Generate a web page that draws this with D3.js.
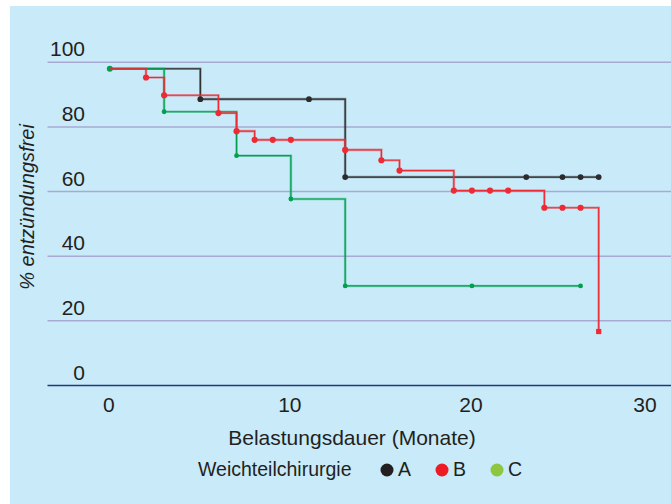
<!DOCTYPE html>
<html>
<head>
<meta charset="utf-8">
<script src="https://cdn.jsdelivr.net/npm/d3@7"></script>
<style>
  html, body { margin: 0; padding: 0; background: #fff; }
  svg { display: block; font-family: "Liberation Sans", Arial, sans-serif; }
</style>
</head>
<body>
<svg id="chart" width="671" height="504"></svg>
<script>
// x axis ticks and y gridlines
const xTicks = [0, 10, 20, 30];
const yTicks = [0, 20, 40, 60, 80, 100];

// Kaplan-Meier steps: time (months) and % free of inflammation at each marker
const timesA = [0, 5, 11, 13, 23, 25, 26, 27];
const valuesA = [98, 88.6, 88.6, 64.5, 64.5, 64.5, 64.5, 64.5];
const timesB = [0, 2, 3, 6, 7, 8, 9, 10, 13, 15, 16, 19, 20, 21, 22, 24, 25, 26, 27];
const valuesB = [98, 95.3, 89.8, 84.3, 78.7, 76, 76, 76, 72.9, 69.7, 66.5, 60.3, 60.3, 60.3, 60.3, 55, 55, 55, 16.7];
const timesC = [0, 3, 7, 10, 13, 20, 26];
const valuesC = [98, 84.7, 71.1, 57.7, 30.8, 30.8, 30.8];

const legendLabels = ["A", "B", "C"];

const textColor = "#231f20";
const bgColor = "#c8eaf9";
const gridColor = "#a9aad3";
const axisColor = "#1d3b78";

const svg = d3.select("#chart");

svg.append("rect")
    .attr("x", 10).attr("y", 6)
    .attr("width", 661).attr("height", 498)
    .attr("fill", bgColor);

const x = d3.scaleLinear().domain([0, 30]).range([109.8, 653]);
const y = d3.scaleLinear().domain([0, 100]).range([385.5, 62.3]);

// gridlines + y labels
const grid = svg.append("g");
grid.selectAll("line")
    .data(yTicks)
    .enter().append("line")
    .attr("x1", 47.5).attr("x2", 671)
    .attr("y1", d => y(d)).attr("y2", d => y(d))
    .attr("stroke", d => d === 0 ? axisColor : gridColor)
    .attr("stroke-width", d => d === 0 ? 1.6 : 1.5);
grid.selectAll("text")
    .data(yTicks)
    .enter().append("text")
    .attr("x", 85)
    .attr("y", d => y(d) - 6)
    .attr("text-anchor", "end")
    .attr("font-size", 21)
    .attr("fill", textColor)
    .text(d => d);

// x tick labels
svg.append("g").selectAll("text")
    .data(xTicks)
    .enter().append("text")
    .attr("x", d => x(d) - (d === 30 ? 8 : 1))
    .attr("y", 412)
    .attr("text-anchor", "middle")
    .attr("font-size", 21)
    .attr("fill", textColor)
    .text(d => d);

svg.append("text")
    .attr("x", 352).attr("y", 445)
    .attr("text-anchor", "middle")
    .attr("font-size", 21)
    .attr("fill", textColor)
    .text("Belastungsdauer (Monate)");

svg.append("text")
    .attr("transform", "translate(34,207) rotate(-90)")
    .attr("text-anchor", "middle")
    .attr("font-size", 20)
    .attr("font-style", "italic")
    .attr("fill", textColor)
    .text("% entzündungsfrei");

// curves
const series = [
    { times: timesA, values: valuesA, color: "#2b2b2b", r: 2.9, firstDot: false },
    { times: timesC, values: valuesC, color: "#00a04f", r: 2.4, firstDot: true },
    { times: timesB, values: valuesB, color: "#ee2a33", r: 3.1, firstDot: false }
];

const stepLine = d3.line()
    .x(d => x(d[0]))
    .y(d => y(d[1]))
    .curve(d3.curveStepAfter);

series.forEach(s => {
    const pts = s.times.map((t, i) => [t, s.values[i]]);
    const g = svg.append("g");
    g.append("path")
        .attr("d", stepLine(pts))
        .attr("fill", "none")
        .attr("stroke", s.color)
        .attr("stroke-opacity", 0.4)
        .attr("stroke-width", 2.6);
    g.append("path")
        .attr("d", stepLine(pts))
        .attr("fill", "none")
        .attr("stroke", s.color)
        .attr("stroke-width", 1.2);
    const dots = s.firstDot ? pts : pts.slice(1);
    const last = s === series[2] ? dots.pop() : null;
    g.selectAll("circle")
        .data(dots)
        .enter().append("circle")
        .attr("cx", d => x(d[0]))
        .attr("cy", d => y(d[1]))
        .attr("r", d => (s.firstDot && d[0] === 0) ? 3 : s.r)
        .attr("fill", s.color);
    if (last) {
        g.append("rect")
            .attr("x", x(last[0]) - 2.6).attr("y", y(last[1]) - 2.6)
            .attr("width", 5.2).attr("height", 5.2)
            .attr("fill", s.color);
    }
});

// legend
const legend = svg.append("g");
legend.append("text")
    .attr("x", 198).attr("y", 476)
    .attr("font-size", 19.5)
    .attr("fill", textColor)
    .text("Weichteilchirurgie");
const legendColors = ["#231f20", "#ed1c24", "#8dc63f"];
const legendX = [387, 442, 497];
const items = legend.selectAll("g.item")
    .data(legendLabels)
    .enter().append("g")
    .attr("class", "item")
    .attr("transform", (d, i) => `translate(${legendX[i]},470)`);
items.append("circle")
    .attr("r", 6.5)
    .attr("fill", (d, i) => legendColors[i]);
items.append("text")
    .attr("x", 11).attr("y", 6)
    .attr("font-size", 19.5)
    .attr("fill", textColor)
    .text(d => d);
</script>
</body>
</html>
